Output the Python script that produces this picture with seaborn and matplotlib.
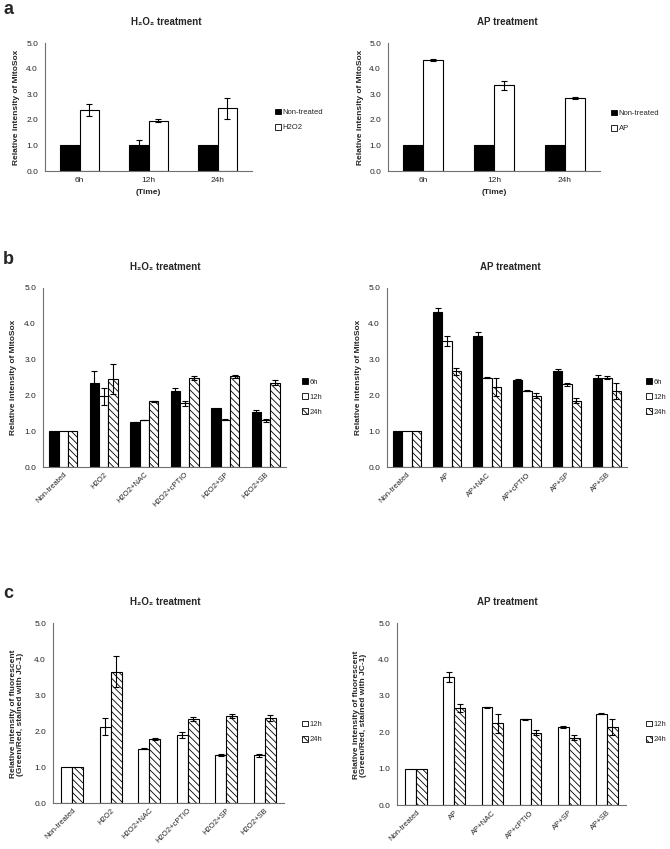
import numpy as np
import pandas as pd
import matplotlib
matplotlib.use('Agg')
import matplotlib.pyplot as plt
from matplotlib.patches import Patch
import seaborn as sns

# --- data ---
a_times = ['6h', '12h', '24h']
a_h2o2_ctrl = [1.0, 1.0, 1.0]
a_h2o2_ctrl_err = [0.0, 0.23, 0.0]
a_h2o2_trt = [2.37, 1.97, 2.45]
a_h2o2_trt_err = [0.24, 0.06, 0.40]
a_ap_ctrl = [1.0, 1.0, 1.0]
a_ap_ctrl_err = [0.0, 0.0, 0.0]
a_ap_trt = [4.33, 3.35, 2.85]
a_ap_trt_err = [0.05, 0.17, 0.03]

h2o2_groups = ['Non-treated', 'H2O2', 'H2O2+NAC', 'H2O2+cPTIO', 'H2O2+SP', 'H2O2+SB']
ap_groups = ['Non-treated', 'AP', 'AP+NAC', 'AP+cPTIO', 'AP+SP', 'AP+SB']

b_h2o2_6h = [1.0, 2.36, 1.25, 2.13, 1.66, 1.55]
b_h2o2_6h_err = [0.0, 0.33, 0.01, 0.07, 0.0, 0.05]
b_h2o2_12h = [1.0, 1.98, 1.31, 1.78, 1.32, 1.31]
b_h2o2_12h_err = [0.0, 0.24, 0.01, 0.07, 0.02, 0.04]
b_h2o2_24h = [1.0, 2.45, 1.83, 2.48, 2.53, 2.36]
b_h2o2_24h_err = [0.0, 0.42, 0.02, 0.05, 0.05, 0.07]

b_ap_6h = [1.0, 4.32, 3.66, 2.43, 2.69, 2.48]
b_ap_6h_err = [0.0, 0.12, 0.10, 0.02, 0.05, 0.08]
b_ap_12h = [1.0, 3.52, 2.50, 2.13, 2.31, 2.50]
b_ap_12h_err = [0.0, 0.13, 0.02, 0.02, 0.04, 0.03]
b_ap_24h = [1.0, 2.67, 2.24, 1.99, 1.85, 2.13]
b_ap_24h_err = [0.0, 0.10, 0.25, 0.07, 0.07, 0.22]

c_h2o2_12h = [1.0, 2.12, 1.51, 1.88, 1.33, 1.32]
c_h2o2_12h_err = [0.0, 0.23, 0.02, 0.08, 0.02, 0.04]
c_h2o2_24h = [1.0, 3.65, 1.78, 2.33, 2.41, 2.36]
c_h2o2_24h_err = [0.0, 0.42, 0.02, 0.05, 0.05, 0.08]

c_ap_12h = [1.0, 3.52, 2.68, 2.35, 2.15, 2.51]
c_ap_12h_err = [0.0, 0.13, 0.01, 0.02, 0.03, 0.02]
c_ap_24h = [1.0, 2.67, 2.24, 1.99, 1.85, 2.13]
c_ap_24h_err = [0.0, 0.11, 0.25, 0.08, 0.07, 0.22]

# --- style ---
sns.set_style('white')
plt.rcParams['font.family'] = ['Liberation Sans', 'DejaVu Sans']
plt.rcParams['hatch.linewidth'] = 0.6
plt.rcParams['hatch.color'] = 'black'

W, H = 670, 849
fig = plt.figure(figsize=(W / 100, H / 100), dpi=100)

HATCH = '\\' * 5
AXCOL = '#707070'


def px_axes(x0, x1, y0, y1):
    return fig.add_axes([x0 / W, 1 - y1 / H, (x1 - x0) / W, (y1 - y0) / H])


def draw_panel(ax, groups, names, values, errors, colors, hatches, width, rotate):
    rows = []
    for name, vals in zip(names, values):
        for g, v in zip(groups, vals):
            rows.append({'group': g, 'series': name, 'value': v})
    df = pd.DataFrame(rows)
    sns.barplot(data=df, x='group', y='value', hue='series', order=groups,
                hue_order=names, palette=colors, edgecolor='black',
                linewidth=0.8, errorbar=None, width=width, legend=False, ax=ax)
    for cont, errs, hatch in zip(ax.containers, errors, hatches):
        for bar, e in zip(cont, errs):
            if hatch:
                bar.set_hatch(hatch)
            if e > 0:
                ax.errorbar(bar.get_x() + bar.get_width() / 2, bar.get_height(),
                            yerr=e, fmt='none', ecolor='black', elinewidth=0.8,
                            capsize=2.5, capthick=0.8, zorder=5)
    n = len(groups)
    ax.set_xlim(-0.5, n - 0.5)
    ax.set_ylim(0, 5)
    ax.set_yticks(np.arange(0, 5.5, 1.0))
    ax.set_yticklabels([f'{t:.1f}' for t in np.arange(0, 5.5, 1.0)])
    ax.set_xticks(np.arange(n + 1) - 0.5, minor=True)
    ax.tick_params(axis='x', which='major', length=0, pad=4, labelsize=6)
    ax.tick_params(axis='x', which='minor', length=3, color=AXCOL, width=0.8)
    ax.tick_params(axis='y', length=3, color=AXCOL, width=0.8, labelsize=6, pad=2)
    if rotate:
        ax.set_xticks(range(n))
        ax.set_xticklabels(groups, rotation=45, ha='right', rotation_mode='anchor')
        ax.tick_params(axis='x', which='major', labelsize=5.5, pad=3)
    sns.despine(ax=ax)
    for s in ['left', 'bottom']:
        ax.spines[s].set_color(AXCOL)
        ax.spines[s].set_linewidth(0.8)
    ax.set_xlabel('')
    ax.set_ylabel('')
    handles = [Patch(facecolor=c, edgecolor='black', hatch=h, linewidth=0.6)
               for c, h in zip(colors, hatches)]
    return handles


def add_legend(ax, handles, labels, x, y):
    ax.legend(handles, labels, loc='center left', bbox_to_anchor=(x / W, 1 - y / H),
              bbox_transform=fig.transFigure, frameon=False, borderaxespad=0,
              borderpad=0, handlelength=0.8, handleheight=0.8, handletextpad=0.2,
              labelspacing=1.0, fontsize=5.5)


def ylabel(text, x, y):
    fig.text(x / W, 1 - y / H, text, rotation=90, ha='center', va='center',
             fontsize=6, fontweight='bold', linespacing=1.0)


def title(text, x, y):
    fig.text(x / W, 1 - y / H, text, ha='center', va='center', fontsize=7,
             fontweight='bold')


def letter(text, y):
    fig.text(3 / W, 1 - y / H, text, ha='left', va='center', fontsize=13,
             fontweight='bold')


mito = 'Relative intensity of MitoSox'
jc1 = 'Relative intensity of fluorescent\n(Green/Red, stained with JC-1)'

# --- panel a ---
ax = px_axes(45, 252, 43, 171)
h = draw_panel(ax, a_times, ['Non-treated', 'H2O2'], [a_h2o2_ctrl, a_h2o2_trt],
               [a_h2o2_ctrl_err, a_h2o2_trt_err], ['black', 'white'], ['', ''], 0.57, False)
ax.set_xlabel('(Time)', fontsize=6, fontweight='bold', labelpad=4)
add_legend(ax, h, ['Non-treated', 'H2O2'], 275, 120)
ylabel(mito, 17, 107)
title('H₂O₂ treatment', 166, 22)
letter('a', 9)

ax = px_axes(388, 600, 43, 171)
h = draw_panel(ax, a_times, ['Non-treated', 'AP'], [a_ap_ctrl, a_ap_trt],
               [a_ap_ctrl_err, a_ap_trt_err], ['black', 'white'], ['', ''], 0.57, False)
ax.set_xlabel('(Time)', fontsize=6, fontweight='bold', labelpad=4)
add_legend(ax, h, ['Non-treated', 'AP'], 611, 121)
ylabel(mito, 360, 107)
title('AP treatment', 507, 22)

# --- panel b ---
times3 = ['6h', '12h', '24h']
ax = px_axes(43, 286, 288, 467)
h = draw_panel(ax, h2o2_groups, times3, [b_h2o2_6h, b_h2o2_12h, b_h2o2_24h],
               [b_h2o2_6h_err, b_h2o2_12h_err, b_h2o2_24h_err],
               ['black', 'white', 'white'], ['', '', HATCH], 0.7, True)
add_legend(ax, h, times3, 302, 397)
ylabel(mito, 14, 377)
title('H₂O₂ treatment', 165, 267)
letter('b', 259)

ax = px_axes(387, 627, 288, 467)
h = draw_panel(ax, ap_groups, times3, [b_ap_6h, b_ap_12h, b_ap_24h],
               [b_ap_6h_err, b_ap_12h_err, b_ap_24h_err],
               ['black', 'white', 'white'], ['', '', HATCH], 0.7, True)
add_legend(ax, h, times3, 646, 397)
ylabel(mito, 358, 377)
title('AP treatment', 510, 267)

# --- panel c ---
times2 = ['12h', '24h']
ax = px_axes(53, 284, 623, 803)
h = draw_panel(ax, h2o2_groups, times2, [c_h2o2_12h, c_h2o2_24h],
               [c_h2o2_12h_err, c_h2o2_24h_err],
               ['white', 'white'], ['', HATCH], 0.57, True)
add_legend(ax, h, times2, 302, 732)
ylabel(jc1, 17, 714)
title('H₂O₂ treatment', 165, 602)
letter('c', 594)

ax = px_axes(397, 626, 623, 805)
h = draw_panel(ax, ap_groups, times2, [c_ap_12h, c_ap_24h],
               [c_ap_12h_err, c_ap_24h_err],
               ['white', 'white'], ['', HATCH], 0.57, True)
add_legend(ax, h, times2, 646, 732)
ylabel(jc1, 360, 715)
title('AP treatment', 507, 602)

fig.savefig('out.png', dpi=100, facecolor='white')
